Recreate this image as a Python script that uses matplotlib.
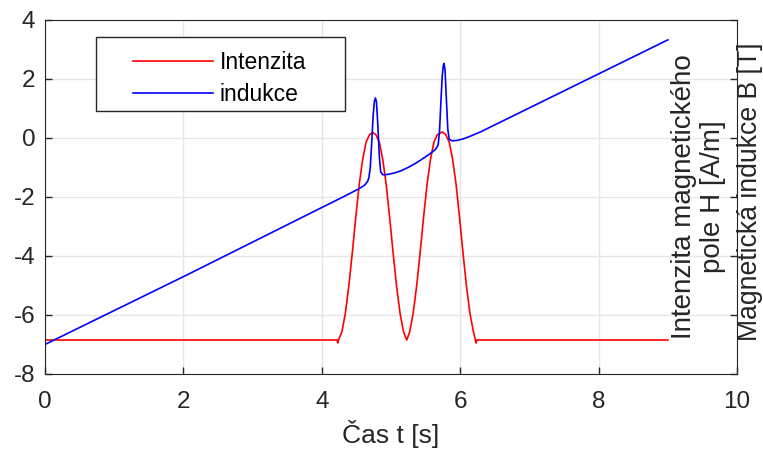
import matplotlib.pyplot as plt
from matplotlib.patches import Rectangle

plt.rcParams['font.family'] = ['Liberation Sans', 'DejaVu Sans']
plt.rcParams['axes.unicode_minus'] = False

# Intenzita (red)
t_h = [0.0, 4.22, 4.23, 4.24, 4.29, 4.34, 4.39, 4.44, 4.49, 4.54, 4.59, 4.64, 4.69, 4.735,
       4.78, 4.83, 4.88, 4.93, 4.98, 5.03, 5.08, 5.13, 5.18, 5.227,
       5.27, 5.32, 5.37, 5.42, 5.47, 5.52, 5.57, 5.62, 5.67, 5.742,
       5.79, 5.84, 5.89, 5.94, 5.99, 6.04, 6.09, 6.14, 6.19, 6.22, 6.23, 6.24, 9.0]
h = [-6.85, -6.85, -6.95, -6.85, -6.57, -5.94, -5.02, -3.90, -2.70, -1.58, -0.73, -0.14, 0.11, 0.18,
     0.11, -0.14, -0.73, -1.58, -2.70, -3.90, -5.02, -5.94, -6.57, -6.85,
     -6.57, -5.94, -5.02, -3.90, -2.70, -1.58, -0.73, -0.14, 0.11, 0.20,
     0.11, -0.14, -0.73, -1.58, -2.70, -3.90, -5.02, -5.94, -6.57, -6.85, -6.95, -6.85, -6.85]

# indukce (blue)
t_b = [0.0, 2.02, 4.0, 4.3, 4.54, 4.62, 4.66, 4.68, 4.70, 4.72, 4.74, 4.76, 4.775,
       4.79, 4.81, 4.83, 4.85, 4.88, 4.95, 5.05, 5.15, 5.25, 5.35, 5.45, 5.55, 5.64, 5.68,
       5.70, 5.72, 5.74, 5.755, 5.766, 5.78, 5.80, 5.82, 5.84, 5.88, 5.95, 6.05, 6.15, 6.3, 9.0]
b = [-7.0, -4.68, -2.36, -2.01, -1.72, -1.60, -1.48, -1.35, -1.0, -0.2, 0.7, 1.25, 1.35,
     1.2, 0.4, -0.6, -1.15, -1.25, -1.24, -1.19, -1.11, -1.0, -0.87, -0.72, -0.56, -0.40, -0.25,
     0.2, 1.2, 2.1, 2.45, 2.52, 2.3, 1.3, 0.3, -0.05, -0.1, -0.09, -0.03, 0.06, 0.21, 3.32]

xticks = [0, 2, 4, 6, 8, 10]
yticks = [-8, -6, -4, -2, 0, 2, 4]

fig = plt.figure(figsize=(7.63, 4.5), dpi=100)
ax = fig.add_axes([0.059, 0.169, 0.907, 0.787])

ax.plot(t_h, h, color='#ff0000', lw=1.2, label='Intenzita')
ax.plot(t_b, b, color='#0000ff', lw=1.2, label='indukce')

ax.set_xlim(0, 10)
ax.set_ylim(-8, 4)
ax.set_xticks(xticks)
ax.set_yticks(yticks)
ax.grid(True, color='#e6e6e6', lw=1)
ax.set_axisbelow(True)
ax.tick_params(direction='in', length=5, colors='#262626', labelsize=17.5,
               right=True, top=False, width=1)
ax.tick_params(axis='x', pad=12)
ax.tick_params(axis='y', pad=7)
for s in ax.spines.values():
    s.set_color('#262626')

ax.set_xlabel('Čas t [s]', fontsize=19, color='#262626', labelpad=5)

ax.text(0.944, 0.5, 'Intenzita magnetického\npole H [A/m]', transform=ax.transAxes,
        rotation=90, ha='center', va='center', fontsize=20, color='#262626',
        linespacing=1.15)
ax.text(1.018, 0.514, 'Magnetická indukce B [T]', transform=ax.transAxes,
        rotation=90, ha='center', va='center', fontsize=19.2, color='#262626',
        clip_on=False)

# legend box drawn separately so the padding matches
ax.add_patch(Rectangle((0.074, 0.743), 0.36, 0.209, transform=ax.transAxes,
                       facecolor='white', edgecolor='#262626', lw=1, zorder=4))
leg = ax.legend(loc='upper left', bbox_to_anchor=(0.127, 0.911), fontsize=16.5,
                handlelength=3.5, handletextpad=0.3, frameon=False, borderpad=0,
                labelspacing=0.4, borderaxespad=0)
leg.set_zorder(5)

fig.savefig('out.png', dpi=100)
